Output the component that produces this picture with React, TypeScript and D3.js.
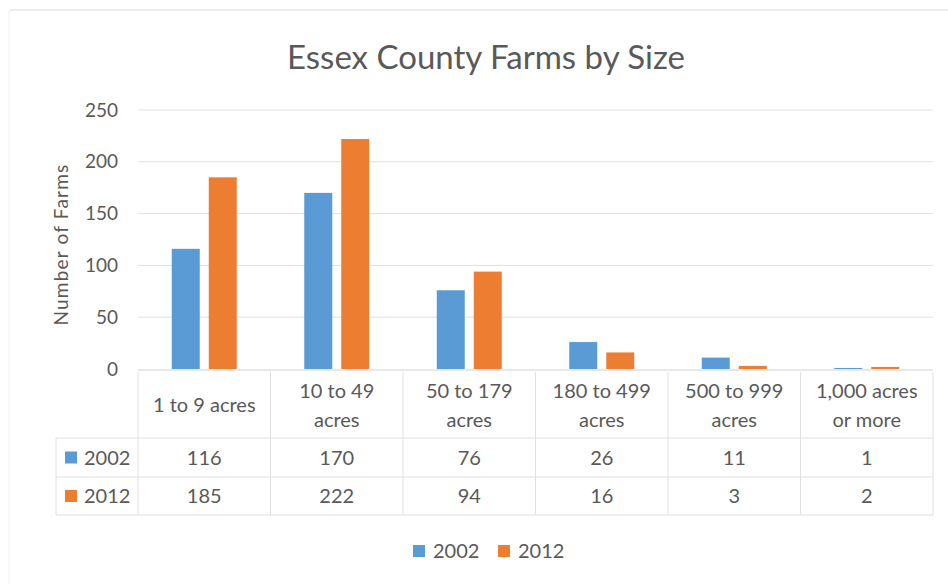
import React from "react";
import * as d3 from "d3";

const categories: string[][] = [
  ["1 to 9 acres"],
  ["10 to 49", "acres"],
  ["50 to 179", "acres"],
  ["180 to 499", "acres"],
  ["500 to 999", "acres"],
  ["1,000 acres", "or more"],
];
const series = ["2002", "2012"];
const values2002 = [116, 170, 76, 26, 11, 1];
const values2012 = [185, 222, 94, 16, 3, 2];
const yTicks = [0, 50, 100, 150, 200, 250];
const colors = ["#5B9BD5", "#ED7D31"];

const W = 948;
const H = 584;
const FONT = "Lato, 'Open Sans', sans-serif";
const TXT = "#595959";
const GRID = "#E0E0E0";

export default function App() {
  const left = 138;
  const right = 933;
  const top = 110;
  const bottom = 369;
  const x = d3.scaleBand<number>().domain(d3.range(categories.length)).range([left, right]);
  const y = d3.scaleLinear().domain([0, 250]).range([bottom, top]);
  const data = [values2002, values2012];
  const barW = 28;
  const gap = 9;

  const rowCat = [372, 438];
  const row1 = [438, 477];
  const row2 = [477, 515];
  const tableLeft = 56;
  const fs = 20;

  return (
    <div style={{ position: "absolute", left: 0, top: 0, width: W, height: H, background: "#fff" }}>
      <svg width={W} height={H} style={{ display: "block", fontFamily: FONT }}>
        <rect x={0} y={0} width={W} height={H} fill="#fff" />
        <line x1={10} x2={W} y1={10} y2={10} stroke="#E6E6E6" strokeWidth={1.5} />
        <line x1={9} x2={9} y1={10} y2={H} stroke="#F0F0F0" strokeWidth={1} />
        <text x={486} y={69} textAnchor="middle" fontSize={33} fill={TXT}>
          Essex County Farms by Size
        </text>
        {yTicks.map((t) => (
          <g key={t}>
            {t > 0 && (
              <line x1={left} x2={right} y1={y(t)} y2={y(t)} stroke={GRID} strokeWidth={1} />
            )}
            <text x={118} y={y(t)} dy="0.35em" textAnchor="end" fontSize={19} fill={TXT}>
              {t}
            </text>
          </g>
        ))}
        <text
          transform={`translate(68,${(top + bottom) / 2 + 5}) rotate(-90)`}
          textAnchor="middle"
          fontSize={19}
          letterSpacing={1.2}
          fill={TXT}
        >
          Number of Farms
        </text>
        {categories.map((_, i) =>
          data.map((vals, s) => {
            const cx = x(i)! + x.bandwidth() / 2;
            const bx = s === 0 ? cx - gap / 2 - barW : cx + gap / 2;
            return (
              <rect
                key={`${i}-${s}`}
                x={bx}
                y={y(vals[i])}
                width={barW}
                height={bottom - y(vals[i])}
                fill={colors[s]}
              />
            );
          })
        )}
        {/* table */}
        <line x1={left} x2={right} y1={bottom + 1} y2={bottom + 1} stroke={GRID} strokeWidth={1.5} />
        <line x1={tableLeft} x2={right} y1={row1[0]} y2={row1[0]} stroke={GRID} />
        <line x1={tableLeft} x2={right} y1={row2[0]} y2={row2[0]} stroke={GRID} />
        <line x1={tableLeft} x2={right} y1={row2[1]} y2={row2[1]} stroke={GRID} />
        <line x1={tableLeft} x2={tableLeft} y1={row1[0]} y2={row2[1]} stroke={GRID} />
        {d3.range(categories.length + 1).map((i) => {
          const xx = i < categories.length ? x(i)! : right;
          return <line key={i} x1={xx} x2={xx} y1={rowCat[0]} y2={row2[1]} stroke={GRID} />;
        })}
        {categories.map((lines, i) => {
          const cx = x(i)! + x.bandwidth() / 2;
          const mid = (rowCat[0] + rowCat[1]) / 2;
          return (
            <text key={i} textAnchor="middle" fontSize={fs} fill={TXT}>
              {lines.map((l, k) => (
                <tspan key={k} x={cx} y={mid + (k - (lines.length - 1) / 2) * 29} dy="0.35em">
                  {l}
                </tspan>
              ))}
            </text>
          );
        })}
        {[row1, row2].map((r, s) => (
          <g key={s}>
            <rect x={65} y={(r[0] + r[1]) / 2 - 6} width={12} height={12} fill={colors[s]} />
            <text x={84} y={(r[0] + r[1]) / 2} dy="0.35em" fontSize={fs} fill={TXT}>
              {series[s]}
            </text>
            {data[s].map((v, i) => (
              <text
                key={i}
                x={x(i)! + x.bandwidth() / 2}
                y={(r[0] + r[1]) / 2}
                dy="0.35em"
                textAnchor="middle"
                fontSize={fs}
                fill={TXT}
              >
                {v}
              </text>
            ))}
          </g>
        ))}
        {/* legend */}
        {series.map((s, k) => {
          const lx = 413 + k * 85;
          return (
            <g key={s}>
              <rect x={lx} y={545} width={12} height={12} fill={colors[k]} />
              <text x={lx + 20} y={551} dy="0.35em" fontSize={fs} fill={TXT}>
                {s}
              </text>
            </g>
          );
        })}
      </svg>
    </div>
  );
}
